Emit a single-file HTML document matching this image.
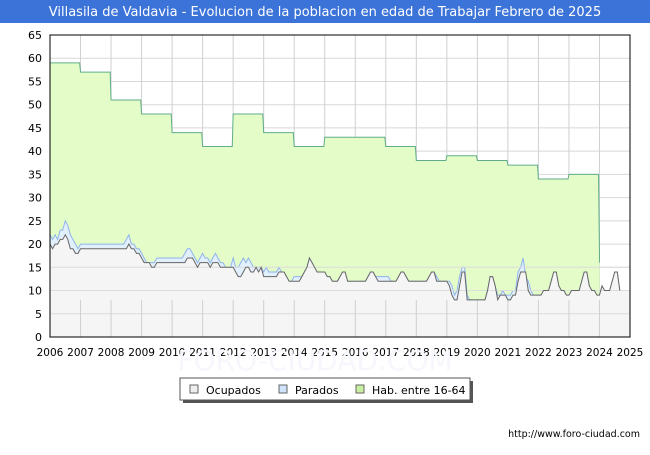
<!DOCTYPE html>
<html><head><meta charset="utf-8"><style>
body{margin:0;background:#fff;}
svg text{font-family:"DejaVu Sans","Liberation Sans",sans-serif;}
</style></head><body>
<svg width="650" height="450" viewBox="0 0 650 450" xmlns="http://www.w3.org/2000/svg">
<rect x="0" y="0" width="650" height="450" fill="#fff"/>
<rect x="0" y="0" width="650" height="23" fill="#3b73d8"/>
<text x="325" y="16" text-anchor="middle" fill="#fff" font-size="13">Villasila de Valdavia - Evolucion de la poblacion en edad de Trabajar Febrero de 2025</text>
<g id="grid"></g>
<g id="series"></g>
<rect x="50" y="35" width="580" height="302" fill="none" stroke="#000" stroke-width="1"/>
<g id="axes"></g>
<text x="315" y="370" text-anchor="middle" font-size="28" fill="#f6f7fc">FORO-CIUDAD.COM</text>
<g>
<rect x="183" y="381" width="290" height="22" fill="#555"/>
<rect x="180" y="378" width="290" height="22" fill="#fff" stroke="#555"/>
<rect x="190" y="385" width="8" height="8" fill="#eee" stroke="#666"/>
<text x="206" y="394" font-size="11">Ocupados</text>
<rect x="279" y="385" width="8" height="8" fill="#cfe3fb" stroke="#666"/>
<text x="295" y="394" font-size="11">Parados</text>
<rect x="356" y="385" width="8" height="8" fill="#c8f0a0" stroke="#666"/>
<text x="372" y="394" font-size="11">Hab. entre 16-64</text>
</g>
<text x="640" y="437" text-anchor="end" font-size="9.5">http://www.foro-ciudad.com</text>
</svg>
<script>
const yTicks=[0,5,10,15,20,25,30,35,40,45,50,55,60,65];
const xYears=[2006,2007,2008,2009,2010,2011,2012,2013,2014,2015,2016,2017,2018,2019,2020,2021,2022,2023,2024,2025];
const habYears=[2006,2007,2008,2009,2010,2011,2012,2013,2014,2015,2016,2017,2018,2019,2020,2021,2022,2023];
const habValues=[59,57,51,48,44,41,48,44,41,43,43,41,38,39,38,37,34,35];
const ocupados=[
20,19,20,20,21,21,22,21,19,19,18,18,
19,19,19,19,19,19,19,19,19,19,19,19,
19,19,19,19,19,19,19,20,19,19,18,18,
17,16,16,16,15,15,16,16,16,16,16,16,
16,16,16,16,16,16,17,17,17,16,15,16,
16,16,16,15,16,16,16,15,15,15,15,15,
15,14,13,13,14,15,15,14,14,15,14,15,
13,13,13,13,13,13,14,14,14,13,12,12,
12,12,12,13,14,15,17,16,15,14,14,14,
14,13,13,12,12,12,13,14,14,12,12,12,
12,12,12,12,12,13,14,14,13,12,12,12,
12,12,12,12,12,13,14,14,13,12,12,12,
12,12,12,12,12,13,14,14,12,12,12,12,
12,11,9,8,8,11,14,14,8,8,8,8,
8,8,8,8,10,13,13,11,8,9,9,9,
8,8,9,9,12,14,14,14,10,9,9,9,
9,9,10,10,10,12,14,14,11,10,10,9,
9,10,10,10,10,12,14,14,11,10,10,9,
9,11,10,10,10,12,14,14,10];
const parados=[
22,21,22,21,23,23,25,24,22,21,20,19,
20,20,20,20,20,20,20,20,20,20,20,20,
20,20,20,20,20,20,21,22,20,20,19,19,
18,17,16,16,16,16,17,17,17,17,17,17,
17,17,17,17,17,18,19,19,18,17,16,17,
18,17,17,16,17,18,17,16,16,15,15,15,
17,15,15,16,17,16,17,16,15,15,15,15,
14,15,14,14,14,14,15,14,14,13,12,12,
13,13,13,13,14,15,17,16,15,14,14,14,
14,13,13,12,12,12,13,14,14,12,12,12,
12,12,12,12,12,13,14,14,13,13,13,13,
13,13,12,12,12,13,14,14,13,12,12,12,
12,12,12,12,12,13,14,14,13,12,12,12,
12,12,11,9,10,13,15,15,9,8,8,8,
8,8,8,8,10,13,13,11,9,9,10,9,
9,9,10,10,14,15,17,13,12,10,9,9,
9,9,10,10,10,12,14,14,11,10,10,9,
9,10,10,10,10,12,14,14,11,10,10,9,
9,11,10,10,10,12,14,14,10];
const NS="http://www.w3.org/2000/svg";
const X0=50,X1=630,Y0=337,Y1=35;
function xs(t){return X0+(t-2006)/(2025-2006)*(X1-X0);}
function ys(v){return Y0-v/65*(Y0-Y1);}
function mk(tag,attrs,parent){const e=document.createElementNS(NS,tag);for(const k in attrs)e.setAttribute(k,attrs[k]);parent.appendChild(e);return e;}
const grid=document.getElementById('grid'),axes=document.getElementById('axes'),ser=document.getElementById('series');
mk('rect',{x:X0,y:Y1,width:X1-X0,height:Y0-Y1,fill:'#fff'},grid);
yTicks.forEach(v=>{const l=mk('line',{x1:X0,x2:X1,y1:ys(v),y2:ys(v),stroke:'#d8d8d8'},grid);

const t=mk('text',{x:42,y:ys(v)+4,'text-anchor':'end','font-size':'11'},axes);t.textContent=v;
});
xYears.forEach(yr=>{const l=mk('line',{x1:xs(yr),x2:xs(yr),y1:Y1,y2:Y0,stroke:'#d0d0d0'},grid);

const t=mk('text',{x:xs(yr),y:356,'text-anchor':'middle','font-size':'10.5'},axes);t.textContent=yr;
});
let hp=[];habYears.forEach((yr,i)=>{hp.push([xs(yr),ys(habValues[i])]);hp.push([xs(yr+1-0.03),ys(habValues[i])]);});
const last=hp[hp.length-1];hp.push([last[0]+1,ys(16)]);
const habArea='M'+xs(habYears[0])+','+Y0+' '+hp.map(p=>'L'+p[0]+','+p[1]).join(' ')+' L'+(last[0]+1)+','+Y0+' Z';
let e=mk('path',{d:habArea,fill:'#e4fcc8',stroke:'none'},ser);

e=mk('path',{d:'M'+hp.map(p=>p[0]+','+p[1]).join(' L'),fill:'none',stroke:'#5fae8a','stroke-width':1},ser);

function pts(arr){return arr.map((v,i)=>[xs(2006+i/12),ys(v)]);}
function area(p){return 'M'+p[0][0]+','+Y0+' '+p.map(q=>'L'+q[0]+','+q[1]).join(' ')+' L'+p[p.length-1][0]+','+Y0+' Z';}
const pp=pts(parados),op=pts(ocupados);
e=mk('path',{d:area(pp),fill:'#e2effc'},ser);

e=mk('path',{d:'M'+pp.map(p=>p.join(',')).join(' L'),fill:'none',stroke:'#8fb4ec','stroke-width':1},ser);

e=mk('path',{d:area(op),fill:'#f5f5f5'},ser);

const lastX=op[op.length-1][0];
e=mk('rect',{x:lastX,y:ys(10),width:X1-lastX,height:Y0-ys(10),fill:'#f5f5f5'},ser);

yTicks.filter(v=>v<=15).forEach(v=>{const l=mk('line',{x1:X0,x2:X1,y1:ys(v),y2:ys(v),stroke:'#dcdcdc'},ser);
});
xYears.forEach(yr=>{const l=mk('line',{x1:xs(yr),x2:xs(yr),y1:ys(8),y2:Y0,stroke:'#d0d0d0'},ser);
});
e=mk('path',{d:'M'+op.map(p=>p.join(',')).join(' L'),fill:'none',stroke:'#666','stroke-width':1},ser);

</script>
</body></html>
